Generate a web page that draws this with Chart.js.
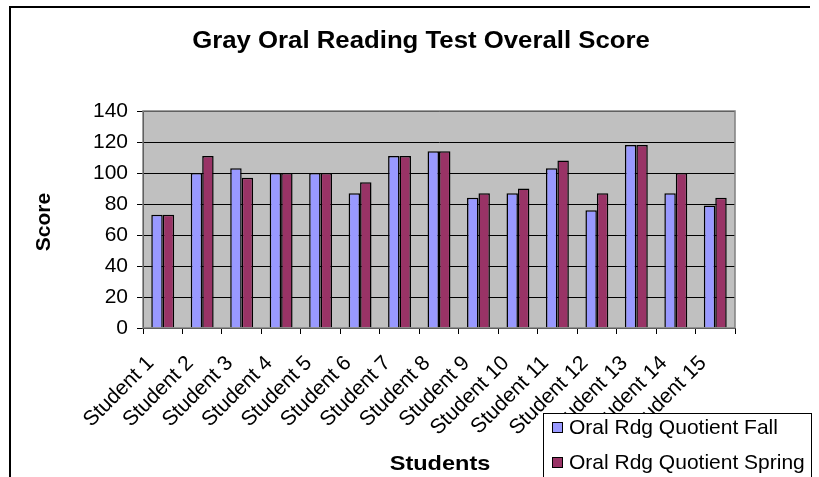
<!DOCTYPE html>
<html>
<head>
<meta charset="utf-8">
<script src="https://cdn.jsdelivr.net/npm/chart.js@4/dist/chart.umd.min.js"></script>
<style>
  html, body { margin: 0; padding: 0; background: #fff; }
  #wrap { width: 819px; height: 477px; position: relative; }
</style>
</head>
<body>
<div id="wrap"><canvas id="chart" width="819" height="477"></canvas></div>
<script>
// data
const students = ['Student 1', 'Student 2', 'Student 3', 'Student 4', 'Student 5',
  'Student 6', 'Student 7', 'Student 8', 'Student 9', 'Student 10',
  'Student 11', 'Student 12', 'Student 13', 'Student 14', 'Student 15'];
const fallScores = [73, 100, 103, 100, 100, 87, 111, 114, 84, 87, 103, 76, 118, 87, 79];
const springScores = [73, 111, 97, 100, 100, 94, 111, 114, 87, 90, 108, 87, 118, 100, 84];
const seriesNames = ['Oral Rdg Quotient Fall', 'Oral Rdg Quotient Spring'];
const yTicks = [0, 20, 40, 60, 80, 100, 120, 140];

const FONT = '"Liberation Sans", Arial, sans-serif';
const fallColor = '#9999FF';
const springColor = '#993366';

// text slightly wider than the font, like the stretched original
function wideText(ctx, text, x, y, sx) {
  ctx.save();
  ctx.translate(x, y);
  ctx.scale(sx, 1);
  ctx.fillText(text, 0, 0);
  ctx.restore();
}

// frame, plot background, titles and legend box
const excelLook = {
  id: 'excelLook',
  beforeDraw(chart) {
    const { ctx, chartArea: a } = chart;
    ctx.save();
    ctx.fillStyle = '#C0C0C0';
    ctx.fillRect(a.left, a.top, a.right - a.left, a.bottom - a.top);
    ctx.restore();
  },
  afterDraw(chart) {
    const { ctx, chartArea: a } = chart;
    ctx.save();
    // plot border
    ctx.strokeStyle = '#808080';
    ctx.lineWidth = 1.5;
    ctx.strokeRect(a.left, a.top, a.right - a.left, a.bottom - a.top);
    // outer frame (left and top only visible)
    ctx.strokeStyle = '#000';
    ctx.lineWidth = 2;
    ctx.beginPath();
    ctx.moveTo(10, 477);
    ctx.lineTo(10, 7);
    ctx.lineTo(810, 7);
    ctx.stroke();

    ctx.fillStyle = '#000';
    ctx.textAlign = 'center';
    ctx.textBaseline = 'middle';
    ctx.font = 'bold 23px ' + FONT;
    wideText(ctx, 'Gray Oral Reading Test Overall Score', 421, 42, 1.12);

    ctx.font = 'bold 21px ' + FONT;
    wideText(ctx, 'Students', 440, 464, 1.12);

    ctx.save();
    ctx.translate(44, 222);
    ctx.rotate(-Math.PI / 2);
    ctx.fillText('Score', 0, 0);
    ctx.restore();

    // legend
    ctx.fillStyle = '#fff';
    ctx.fillRect(543, 413, 269, 70);
    ctx.strokeStyle = '#000';
    ctx.lineWidth = 1;
    ctx.strokeRect(543.5, 413.5, 268, 70);
    const colors = [fallColor, springColor];
    ctx.font = '21px ' + FONT;
    ctx.textAlign = 'left';
    seriesNames.forEach((name, i) => {
      const y = 427 + i * 35;
      ctx.fillStyle = colors[i];
      ctx.fillRect(552, y - 5, 11, 10);
      ctx.strokeStyle = '#000';
      ctx.strokeRect(552.5, y - 4.5, 10, 10);
      ctx.fillStyle = '#000';
      ctx.fillText(name, 569, y + 1);
    });
    ctx.restore();
  }
};

new Chart(document.getElementById('chart'), {
  type: 'bar',
  data: {
    labels: students,
    datasets: [{
      label: seriesNames[0],
      data: fallScores,
      backgroundColor: fallColor,
      borderColor: '#000',
      borderWidth: 1.5,
      categoryPercentage: 0.58,
      barPercentage: 1.0
    }, {
      label: seriesNames[1],
      data: springScores,
      backgroundColor: springColor,
      borderColor: '#000',
      borderWidth: 1.5,
      categoryPercentage: 0.58,
      barPercentage: 1.0
    }]
  },
  options: {
    responsive: false,
    animation: false,
    layout: { padding: { left: 0, top: 111, right: 84, bottom: 0 } },
    plugins: {
      legend: { display: false },
      title: { display: false },
      tooltip: { enabled: false }
    },
    scales: {
      x: {
        grid: {
          offset: true,
          drawOnChartArea: false,
          drawTicks: true,
          tickLength: 6,
          color: '#000'
        },
        border: { color: '#000', width: 1 },
        ticks: {
          color: '#000',
          font: { family: FONT, size: 21 },
          minRotation: 45,
          maxRotation: 45,
          autoSkip: false,
          padding: 17,
          labelOffset: -12
        },
        afterFit(scale) { scale.height = 477 - 328; }
      },
      y: {
        min: 0,
        max: 140,
        afterBuildTicks(scale) { scale.ticks = yTicks.map(v => ({ value: v })); },
        grid: { color: '#000', tickLength: 6 },
        border: { color: '#000', width: 1 },
        ticks: {
          color: '#000',
          font: { family: FONT, size: 21 },
          padding: 9
        },
        afterFit(scale) { scale.width = 143; }
      }
    }
  },
  plugins: [excelLook]
});
</script>
</body>
</html>
